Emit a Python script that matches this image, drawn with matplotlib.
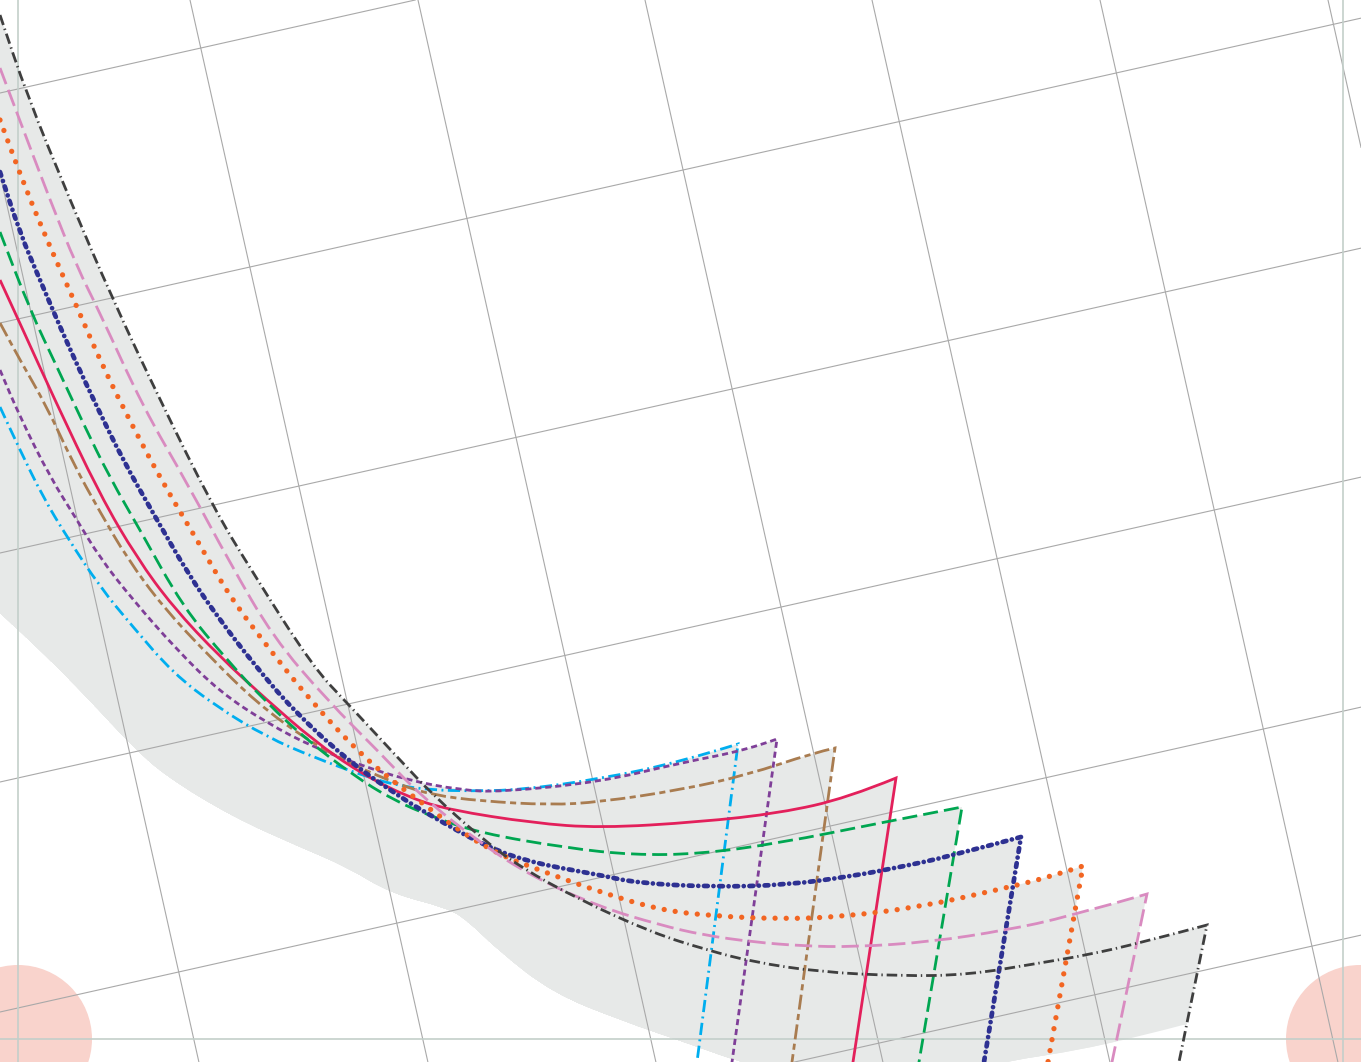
import matplotlib
matplotlib.use("Agg")
import matplotlib.pyplot as plt
from matplotlib.patches import Circle, PathPatch
from matplotlib.path import Path

# ---------------- data (picture units: x right, y down) ----------------
series_names = ["cyan", "purple", "brown", "red", "green", "navy", "orange", "pink", "black"]

cyan_x = [0, 20, 43, 67, 100, 133, 173, 217, 267, 313, 367, 400, 433, 470, 520, 600, 680, 738]
cyan_y = [407, 450, 497, 537, 587, 627, 673, 707, 737, 757, 777, 786, 790, 791, 790, 779, 762, 744]

purple_x = [0, 20, 50, 77, 100, 133, 177, 220, 267, 313, 360, 407, 460, 500, 600, 680, 747, 777]
purple_y = [370, 417, 477, 520, 558, 600, 650, 692, 723, 747, 765, 780, 790, 792, 782, 763, 750, 739]

brown_x = [0, 20, 47, 73, 100, 127, 163, 210, 257, 307, 353, 400, 433, 480, 550, 600, 680, 747, 813, 835]
brown_y = [323, 360, 407, 463, 512, 558, 607, 657, 703, 740, 765, 785, 795, 801, 805, 802, 790, 775, 753, 748]

red_x = [0, 23, 53, 100, 137, 173, 220, 267, 313, 360, 410, 450, 533, 600, 700, 780, 847, 896]
red_y = [280, 330, 396, 495, 558, 607, 657, 700, 740, 773, 798, 810, 823, 828, 822, 813, 798, 778]

green_x = [0, 30, 57, 83, 110, 140, 183, 227, 267, 307, 353, 393, 433, 480, 567, 633, 700, 780, 880, 962]
green_y = [232, 310, 367, 423, 478, 530, 607, 660, 703, 740, 775, 800, 817, 833, 848, 855, 854, 843, 823, 807]

navy_x = [0, 20, 40, 67, 97, 123, 153, 190, 220, 253, 293, 347, 400, 433, 487, 533, 600, 637, 713, 787, 853, 900, 947, 1021]
navy_y = [172, 233, 280, 343, 407, 460, 513, 577, 620, 663, 710, 760, 797, 817, 847, 863, 875, 883, 887, 885, 876, 867, 857, 837]

orange_x = [0, 25, 50, 77, 103, 133, 163, 197, 230, 270, 310, 363, 413, 487, 547, 600, 660, 713, 780, 840, 920, 997, 1050, 1083]
orange_y = [120, 187, 247, 307, 367, 427, 483, 540, 597, 650, 700, 757, 797, 850, 873, 892, 910, 916, 919, 917, 907, 890, 877, 866]

pink_x = [0, 17, 50, 77, 100, 143, 187, 230, 273, 327, 380, 420, 480, 533, 600, 660, 703, 753, 803, 853, 930, 1007, 1067, 1147]
pink_y = [68, 113, 200, 267, 313, 407, 483, 563, 637, 700, 753, 795, 843, 877, 907, 925, 935, 942, 946, 947, 942, 930, 917, 894]

black_x = [0, 27, 70, 113, 160, 213, 253, 313, 348, 400, 433, 480, 520, 580, 653, 707, 753, 820, 900, 967, 1040, 1087, 1140, 1207]
black_y = [15, 95, 200, 300, 400, 507, 573, 667, 704, 760, 795, 837, 867, 900, 933, 950, 962, 972, 976, 975, 963, 955, 943, 925]

# x where each series' return leg meets the bottom edge (y = 1062)
return_bottom_x = [697, 732, 792, 853, 919, 984, 1048, 1112, 1179]

# lower edge of the shaded band
band_lo_x = [0, 40, 83, 133, 167, 233, 300, 347, 390, 447, 467, 500, 553, 620, 687, 740, 820, 900, 1000, 1100, 1183]
band_lo_y = [613, 650, 693, 747, 777, 817, 847, 867, 893, 908, 920, 952, 993, 1020, 1043, 1062, 1085, 1085, 1062, 1047, 1025]

# ---------------- styling ----------------
W, H = 1361, 1062
BOTTOM = 1062
colors = ["#00aeef", "#7f3f98", "#a97c50", "#e3205b", "#00a651", "#2e3192", "#f26522", "#d98bc0", "#3f3f3f"]
lws = [2.0, 2.0, 2.0, 2.0, 2.0, 3.4, 3.8, 2.0, 2.0]
styles = [
    (0, (4.4, 1.6, 0.7, 1.6)),
    (0, (2.2, 1.4)),
    (0, (5.4, 1.6, 2.2, 1.6)),
    "-",
    (0, (5.4, 2.2)),
    (0, (0.8, 1.2, 0.01, 1.2)),
    (0, (0.01, 2.1)),
    (0, (6.2, 2.2)),
    (0, (3.8, 1.4, 0.5, 1.4)),
]
caps = ["butt", "butt", "butt", "butt", "butt", "round", "round", "butt", "butt"]

xs = [cyan_x, purple_x, brown_x, red_x, green_x, navy_x, orange_x, pink_x, black_x]
ys = [cyan_y, purple_y, brown_y, red_y, green_y, navy_y, orange_y, pink_y, black_y]


def smooth_path_verts(x, y):
    """Quadratic-Bezier path through the read points (points used as control points)."""
    pts = list(zip(x, y))
    verts = [pts[0]]
    codes = [Path.MOVETO]
    verts.append(((pts[0][0] + pts[1][0]) / 2, (pts[0][1] + pts[1][1]) / 2))
    codes.append(Path.LINETO)
    for i in range(1, len(pts) - 2):
        mid = ((pts[i][0] + pts[i + 1][0]) / 2, (pts[i][1] + pts[i + 1][1]) / 2)
        verts += [pts[i], mid]
        codes += [Path.CURVE3, Path.CURVE3]
    verts += [pts[-2], pts[-1]]
    codes += [Path.CURVE3, Path.CURVE3]
    return verts, codes


fig = plt.figure(figsize=(W / 100, H / 100), dpi=100)
ax = fig.add_axes([0, 0, 1, 1])
ax.set_xlim(0, W)
ax.set_ylim(H, 0)
ax.axis("off")

# clip region: everything above the band's lower edge (smoothed)
lv, lc = smooth_path_verts(band_lo_x, band_lo_y)
clip_verts = [(-200, -200), (-200, band_lo_y[0]), lv[0]] + lv[1:] + \
             [(1600, band_lo_y[-1]), (1600, -200), (-200, -200)]
clip_codes = [Path.MOVETO, Path.LINETO, Path.LINETO] + lc[1:] + \
             [Path.LINETO, Path.LINETO, Path.CLOSEPOLY]
clip_patch = PathPatch(Path(clip_verts, clip_codes), transform=ax.transData)

# shaded band: union of per-series regions (under curve, left of return leg)
for x, y, bx in zip(xs, ys, return_bottom_x):
    cx, cy = x[-1], y[-1]
    t = 1.6
    ex = cx + (bx - cx) * t
    ey = cy + (BOTTOM - cy) * t
    v, c = smooth_path_verts(x, y)
    v = v + [(ex, ey), (-200, ey), (-200, y[0]), v[0]]
    c = c + [Path.LINETO, Path.LINETO, Path.LINETO, Path.CLOSEPOLY]
    p = PathPatch(Path(v, c), facecolor="#e7e9e8", edgecolor="none", zorder=1)
    ax.add_patch(p)
    p.set_clip_path(clip_patch)

# pink corner circles
for cc in [(18, 1039), (1360, 1039)]:
    ax.add_patch(Circle(cc, 74, facecolor="#f9d3cc", edgecolor="none", zorder=1.5))

# rotated grid
k = 0.224
for c0 in [93, 323, 553, 782, 1012, 1240]:
    ax.axline((0, c0), slope=-k, color="#a9a9a9", lw=0.8, zorder=2)
for c0 in [-39, 190, 418, 645, 872, 1100, 1328]:
    ax.axline((c0, 0), slope=1 / k, color="#a9a9a9", lw=0.8, zorder=2)

# axis lines
for xv in [18, 1343]:
    ax.axvline(xv, color="#c3cfca", lw=1.2, zorder=2.5)
ax.axhline(1039, color="#c3cfca", lw=1.2, zorder=2.5)

# series lines with return legs
for i, (x, y, bx) in enumerate(zip(xs, ys, return_bottom_x)):
    cx, cy = x[-1], y[-1]
    t = 1.06
    ex = cx + (bx - cx) * t
    ey = cy + (BOTTOM - cy) * t
    v, c = smooth_path_verts(x, y)
    v = v + [(ex, ey)]
    c = c + [Path.LINETO]
    patch = PathPatch(Path(v, c), facecolor="none", edgecolor=colors[i], lw=lws[i],
                      linestyle=styles[i], capstyle=caps[i], joinstyle="miter",
                      zorder=3 + i * 0.1, label=series_names[i])
    ax.add_patch(patch)

fig.savefig("out.png", dpi=100)
